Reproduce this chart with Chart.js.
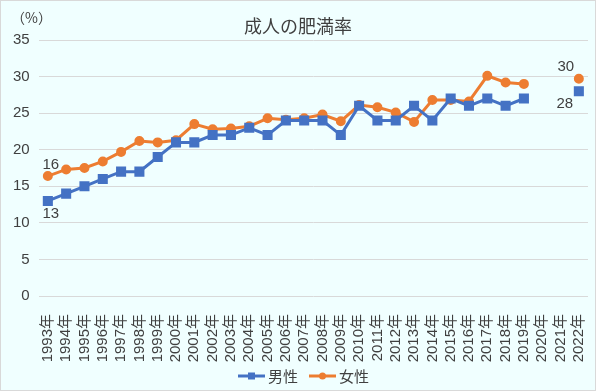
<!DOCTYPE html>
<html>
<head>
<meta charset="utf-8">
<script src="https://cdn.jsdelivr.net/npm/chart.js"></script>
<style>
  html, body { margin: 0; padding: 0; background: #F0FFFF; }
  #wrap { width: 596px; height: 391px; }
</style>
</head>
<body>
<div id="wrap"><canvas id="chart" width="596" height="391"></canvas></div>
<script>
const years = [
  '1993年','1994年','1995年','1996年','1997年','1998年','1999年','2000年','2001年','2002年',
  '2003年','2004年','2005年','2006年','2007年','2008年','2009年','2010年','2011年','2012年',
  '2013年','2014年','2015年','2016年','2017年','2018年','2019年','2020年','2021年','2022年'
];
const male = [13, 14, 15, 16, 17, 17, 19, 21, 21, 22, 22, 23, 22, 24, 24, 24, 22, 26, 24, 24,
  26, 24, 27, 26, 27, 26, 27, null, null, 28];
const female = [16.4, 17.3, 17.5, 18.4, 19.7, 21.2, 21.0, 21.3, 23.5, 22.8, 22.9, 23.2, 24.3, 24.1,
  24.3, 24.8, 23.9, 26.1, 25.8, 25.1, 23.8, 26.8, 26.8, 26.6, 30.1, 29.2, 29.0, null, null, 29.7];
const yTicks = [0, 5, 10, 15, 20, 25, 30, 35];

// labels shown next to a few points: [dataset, index, text, dx, dy]
const pointLabels = [
  [1, 0, '16', 3, -11],
  [0, 0, '13', 3, 13],
  [1, 29, '30', -13, -12],
  [0, 29, '28', -14, 13]
];

const BLUE = '#4472C4';
const ORANGE = '#ED7D31';
const TEXT = '#404040';
const FONT = "'Liberation Sans', 'Noto Sans CJK JP', sans-serif";

// hand drawn legend: line with marker, then the name
function drawLegend(chart) {
  const ctx = chart.ctx;
  let x = 238;
  const y = 376;
  ctx.font = "15px 'Noto Sans CJK JP', sans-serif";
  ctx.textBaseline = 'middle';
  ctx.textAlign = 'left';
  chart.data.datasets.forEach(d => {
    ctx.strokeStyle = d.borderColor;
    ctx.fillStyle = d.borderColor;
    ctx.lineWidth = 3;
    ctx.beginPath(); ctx.moveTo(x, y); ctx.lineTo(x + 27, y); ctx.stroke();
    ctx.beginPath();
    if (d.pointStyle === 'rect') ctx.rect(x + 10, y - 3.5, 7, 7);
    else ctx.arc(x + 13.5, y, 3.5, 0, Math.PI * 2);
    ctx.fill();
    ctx.fillStyle = TEXT;
    ctx.fillText(d.label, x + 30, y);
    x += 30 + ctx.measureText(d.label).width + 11;
  });
}

const extras = {
  id: 'extras',
  beforeDraw(chart) {
    const ctx = chart.ctx;
    ctx.save();
    ctx.strokeStyle = '#D9D9D9';
    ctx.lineWidth = 1;
    ctx.strokeRect(0.5, 0.5, chart.width - 1, chart.height - 1);
    ctx.restore();
  },
  afterDraw(chart) {
    const ctx = chart.ctx;
    ctx.save();
    ctx.fillStyle = TEXT;
    ctx.textAlign = 'center';
    ctx.textBaseline = 'middle';
    ctx.font = "18px 'Noto Sans CJK JP', sans-serif";
    ctx.fillText('成人の肥満率', 298, 26);
    ctx.textAlign = 'left';
    ctx.font = "14px 'Noto Sans CJK JP', sans-serif";
    ctx.fillText('（%）', 11, 18);
    ctx.font = '15px ' + FONT;
    ctx.textAlign = 'center';
    pointLabels.forEach(([ds, i, txt, dx, dy]) => {
      const p = chart.getDatasetMeta(ds).data[i];
      ctx.fillText(txt, p.x + dx, p.y + dy);
    });
    drawLegend(chart);
    ctx.restore();
  }
};

new Chart(document.getElementById('chart'), {
  type: 'line',
  data: {
    labels: years,
    datasets: [
      {
        label: '男性', data: male, borderColor: BLUE, backgroundColor: BLUE,
        borderWidth: 3, pointStyle: 'rect', pointRadius: 5, pointHoverRadius: 5,
        tension: 0, spanGaps: false
      },
      {
        label: '女性', data: female, borderColor: ORANGE, backgroundColor: ORANGE,
        borderWidth: 3, pointStyle: 'circle', pointRadius: 3.5, pointHoverRadius: 3.5,
        tension: 0, spanGaps: false
      }
    ]
  },
  options: {
    responsive: false,
    animation: false,
    layout: { padding: { top: 40, left: 4, right: 6, bottom: 0 } },
    plugins: {
      title: { display: false },
      tooltip: { enabled: false },
      legend: { display: false }
    },
    scales: {
      x: {
        offset: true,
        grid: { display: false, drawTicks: false },
        border: { display: false },
        afterFit(scale) { scale.paddingLeft = 0; scale.paddingRight = 0; scale.height = 95; },
        ticks: {
          color: TEXT, font: { size: 15, family: FONT },
          minRotation: 90, maxRotation: 90, padding: 18, autoSkip: false
        }
      },
      y: {
        min: 0, max: 35,
        afterBuildTicks(scale) { scale.ticks = yTicks.map(v => ({ value: v })); },
        grid: { color: '#D9D9D9', drawTicks: false, lineWidth: 1 },
        border: { display: false },
        ticks: { color: TEXT, font: { size: 15, family: FONT }, padding: 9 }
      }
    }
  },
  plugins: [extras]
});
</script>
</body>
</html>
